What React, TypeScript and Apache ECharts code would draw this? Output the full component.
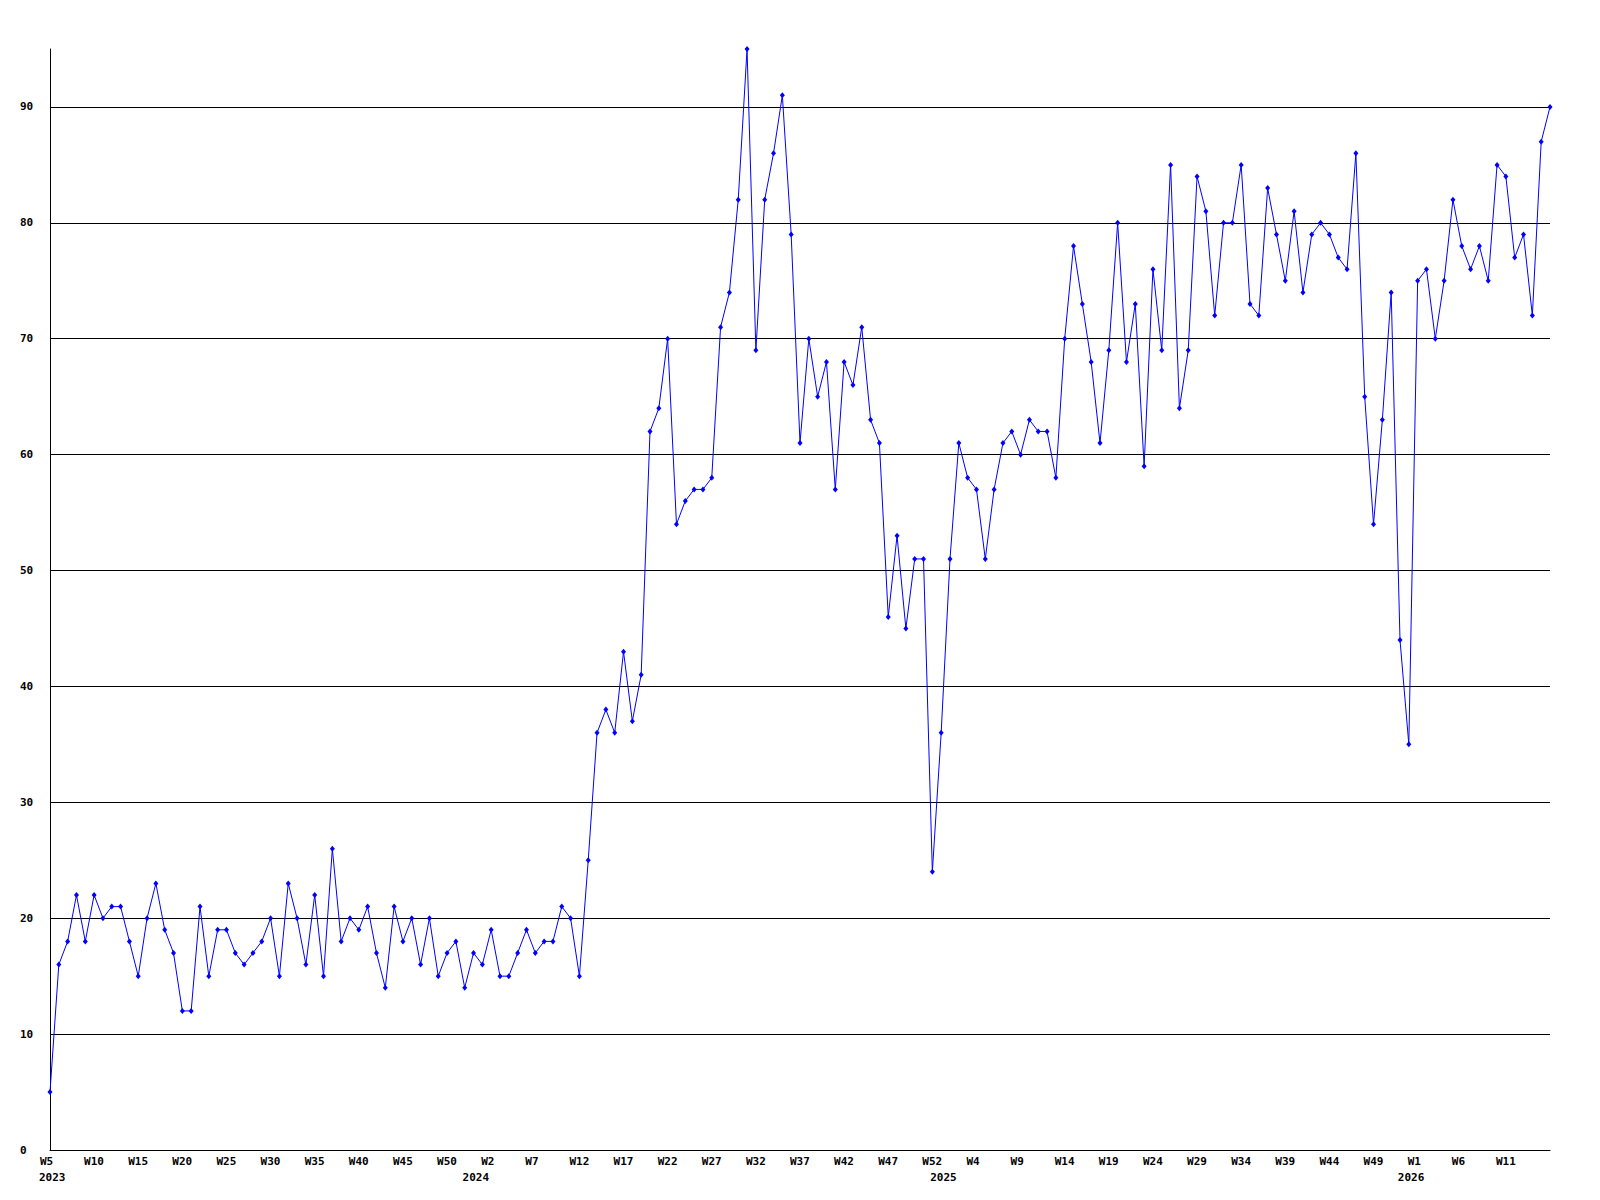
import React, { useEffect, useRef } from "react";
import * as echarts from "echarts";

// Year segments on the x axis (week buckets per year as shown in the chart)
const segmentYears = ["2023", "2024", "2025", "2026"];
const segmentFirstWeek = [5, 0, 0, 0];
const segmentLastWeek = [52, 52, 52, 16];

// Weekly values
const values2023 = [
  5, 16, 18, 22, 18, 22, 20, 21, 21, 18, 15, 20, 23, 19, 17, 12, 12, 21, 15, 19,
  19, 17, 16, 17, 18, 20, 15, 23, 20, 16, 22, 15, 26, 18, 20, 19, 21, 17, 14, 21,
  18, 20, 16, 20, 15, 17, 18, 14,
];
const values2024 = [
  17, 16, 19, 15, 15, 17, 19, 17, 18, 18, 21, 20, 15, 25, 36, 38, 36, 43, 37, 41,
  62, 64, 70, 54, 56, 57, 57, 58, 71, 74, 82, 95, 69, 82, 86, 91, 79, 61, 70, 65,
  68, 57, 68, 66, 71, 63, 61, 46, 53, 45, 51, 51, 24,
];
const values2025 = [
  36, 51, 61, 58, 57, 51, 57, 61, 62, 60, 63, 62, 62, 58, 70, 78, 73, 68, 61, 69,
  80, 68, 73, 59, 76, 69, 85, 64, 69, 84, 81, 72, 80, 80, 85, 73, 72, 83, 79, 75,
  81, 74, 79, 80, 79, 77, 76, 86, 65, 54, 63, 74, 44,
];
const values2026 = [35, 75, 76, 70, 75, 82, 78, 76, 78, 75, 85, 84, 77, 79, 72, 87, 90];

// Y axis ticks
const yMin = 0;
const yMax = 95;
const yInterval = 10;

const FONT = '"DejaVu Sans Mono", "Liberation Mono", monospace';

export default function App() {
  const ref = useRef<HTMLDivElement>(null);

  useEffect(() => {
    if (!ref.current) return;
    const chart = echarts.init(ref.current, null, { renderer: "svg" });

    const categories: string[] = [];
    const yearStartIdx: number[] = [];
    segmentYears.forEach((y, s) => {
      yearStartIdx.push(categories.length);
      for (let w = segmentFirstWeek[s]; w <= segmentLastWeek[s]; w++) {
        categories.push(`${y}-W${w}`);
      }
    });
    const data = [...values2023, ...values2024, ...values2025, ...values2026];
    const lastIdx = categories.length - 1;

    const labelBase = {
      fontFamily: FONT,
      fontWeight: "bold" as const,
      fontSize: 11,
      color: "#000",
    };

    chart.setOption({
      animation: false,
      backgroundColor: "#fff",
      grid: { left: 50, top: 49, width: 1500, height: 1101, containLabel: false },
      xAxis: [
        {
          type: "category",
          data: categories,
          boundaryGap: false,
          position: "bottom",
          axisLine: { show: true, lineStyle: { color: "#000", width: 1 } },
          axisTick: { show: false },
          splitLine: { show: false },
          axisLabel: {
            ...labelBase,
            interval: (index: number) => index % 5 === 0 && index !== lastIdx,
            align: "left",
            verticalAlign: "top",
            margin: 6,
            padding: [0, 0, 0, -10],
            formatter: (v: string) => v.split("-")[1],
          },
        },
        {
          type: "category",
          data: categories,
          boundaryGap: false,
          position: "bottom",
          offset: 17,
          axisLine: { show: false },
          axisTick: { show: false },
          splitLine: { show: false },
          axisLabel: {
            ...labelBase,
            interval: (index: number) => yearStartIdx.includes(index),
            align: "left",
            verticalAlign: "top",
            margin: 5,
            padding: [0, 0, 0, -11],
            formatter: (v: string) => v.split("-")[0],
          },
        },
      ],
      yAxis: {
        type: "value",
        min: yMin,
        max: yMax,
        interval: yInterval,
        axisLine: { show: true, lineStyle: { color: "#000", width: 1 } },
        axisTick: { show: false },
        splitLine: {
          show: true,
          showMaxLine: false,
          lineStyle: { color: "#000", width: 1 },
        },
        axisLabel: {
          ...labelBase,
          align: "left",
          margin: 30,
          showMaxLabel: false,
        },
      },
      series: [
        {
          type: "line",
          data,
          xAxisIndex: 0,
          yAxisIndex: 0,
          symbol: "diamond",
          symbolSize: [5, 6],
          showSymbol: true,
          showAllSymbol: true,
          lineStyle: { color: "#0000ff", width: 1 },
          itemStyle: { color: "#0000ff" },
        },
      ],
    });

    return () => chart.dispose();
  }, []);

  return (
    <div
      ref={ref}
      style={{ position: "absolute", left: 0, top: 0, width: 1600, height: 1200, background: "#fff" }}
    />
  );
}
